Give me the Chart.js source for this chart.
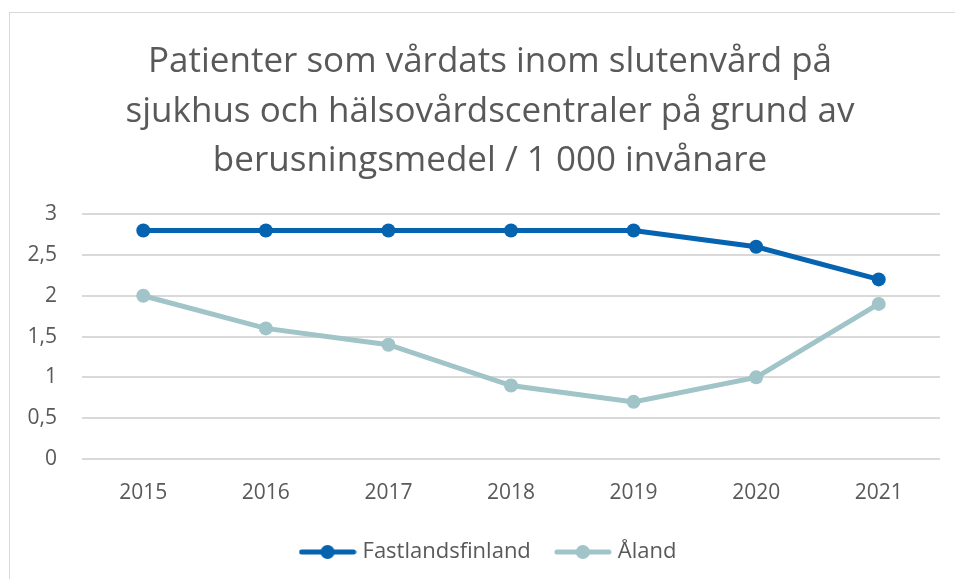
<!DOCTYPE html>
<html>
<head>
<meta charset="utf-8">
<script src="https://cdn.jsdelivr.net/npm/chart.js@4/dist/chart.umd.min.js"></script>
<style>
  html, body { margin: 0; padding: 0; background: #fff; }
  body { width: 955px; height: 579px; position: relative; overflow: hidden; }
  #frame { position: absolute; left: 9px; top: 12px; width: 1000px; height: 600px; border: 1px solid #d9d9d9; }
  #wrap { position: absolute; left: 0; top: 0; width: 980px; height: 579px; }
</style>
</head>
<body>
<div id="frame"></div>
<div id="wrap"><canvas id="chart"></canvas></div>
<script>
const years = ['2015', '2016', '2017', '2018', '2019', '2020', '2021'];
const fastland = [2.8, 2.8, 2.8, 2.8, 2.8, 2.6, 2.2];
const aland = [2.0, 1.6, 1.4, 0.9, 0.7, 1.0, 1.9];
const titleLines = [
  'Patienter som vårdats inom slutenvård på',
  'sjukhus och hälsovårdscentraler på grund av',
  'berusningsmedel / 1 000 invånare'
];

const fontName = '"Open Sans", "Noto Sans", sans-serif';
const textColor = '#595959';
const blue = '#0563b0';
const teal = '#a0c4c8';

// legend marker: short line with a dot in the middle
function marker(color) {
  const c = document.createElement('canvas');
  c.width = 58; c.height = 16;
  const ctx = c.getContext('2d');
  ctx.strokeStyle = color;
  ctx.lineWidth = 5;
  ctx.lineCap = 'round';
  ctx.beginPath(); ctx.moveTo(3, 8); ctx.lineTo(55, 8); ctx.stroke();
  ctx.fillStyle = color;
  ctx.beginPath(); ctx.arc(29, 8, 7, 0, Math.PI * 2); ctx.fill();
  return c;
}

const series = [
  { label: 'Fastlandsfinland', data: fastland, color: blue },
  { label: 'Åland', data: aland, color: teal }
];

new Chart(document.getElementById('chart'), {
  type: 'line',
  data: {
    labels: years,
    datasets: series.map(s => ({
      label: s.label,
      data: s.data,
      borderColor: s.color,
      backgroundColor: s.color,
      borderWidth: 5,
      pointRadius: 7,
      pointHoverRadius: 7,
      pointBorderWidth: 0,
      tension: 0
    }))
  },
  options: {
    responsive: true,
    maintainAspectRatio: false,
    animation: false,
    layout: { padding: { left: 0, right: 0, top: 0, bottom: 6 } },
    plugins: {
      title: {
        display: true,
        text: titleLines,
        color: textColor,
        font: { family: fontName, size: 35, weight: 'normal', lineHeight: 1.42 },
        padding: { top: 37, bottom: 28 }
      },
      legend: {
        position: 'bottom',
        labels: {
          color: textColor,
          font: { family: fontName, size: 22 },
          usePointStyle: true,
          pointStyleWidth: 48,
          padding: 28,
          generateLabels: chart => chart.data.datasets.map((ds, i) => ({
            text: ds.label,
            fontColor: textColor,
            pointStyle: marker(ds.borderColor),
            datasetIndex: i,
            hidden: false,
            lineWidth: 0,
            strokeStyle: 'transparent',
            fillStyle: 'transparent'
          }))
        }
      },
      tooltip: { enabled: false }
    },
    scales: {
      x: {
        offset: true,
        afterFit: scale => { scale.height = 54; },
        grid: { display: false, drawTicks: false },
        border: { display: false },
        ticks: { color: textColor, font: { family: fontName, size: 21 }, padding: 21 }
      },
      y: {
        min: 0,
        max: 3,
        afterFit: scale => { scale.width = 82; },
        grid: { color: '#d9d9d9', lineWidth: 2, drawTicks: false },
        border: { display: false },
        ticks: {
          stepSize: 0.5,
          padding: 25,
          color: textColor,
          font: { family: fontName, size: 21 },
          callback: v => String(v).replace('.', ',')
        }
      },
      // empty right-hand spacer so the title and legend stay centred on the full frame
      spacer: {
        type: 'linear',
        position: 'right',
        afterFit: scale => { scale.width = 40; },
        grid: { display: false },
        border: { display: false },
        ticks: { display: false }
      }
    }
  }
});
</script>
</body>
</html>
